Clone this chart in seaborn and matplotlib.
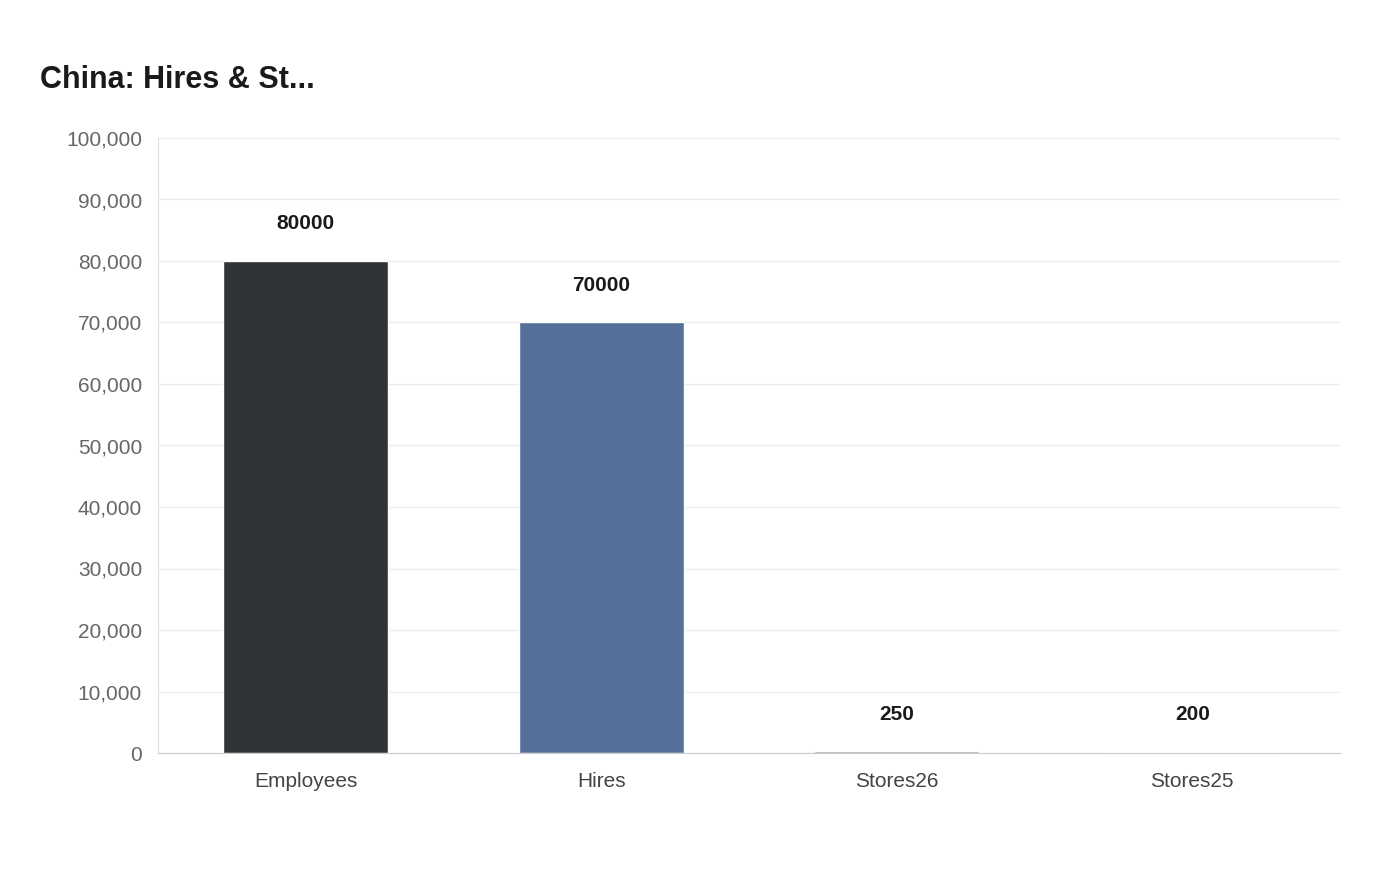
import matplotlib
matplotlib.use("Agg")
import matplotlib.pyplot as plt
import seaborn as sns
import pandas as pd
from matplotlib.ticker import FuncFormatter

categories = ["Employees", "Hires", "Stores26", "Stores25"]
values = [80000, 70000, 250, 200]
colors = ["#2e3538", "#4a6fa5", "#9a9a9a", "#d9d9d9"]

sns.set_style("white")
plt.rcParams["font.family"] = ["Liberation Sans", "DejaVu Sans"]

df = pd.DataFrame({"cat": categories, "val": values})
fig = plt.figure(figsize=(14, 8.8), dpi=100)
ax = fig.add_axes([158 / 1400, 1 - 753 / 880, (1340 - 158) / 1400, (753 - 138) / 880])
sns.barplot(data=df, x="cat", y="val", hue="cat", palette=colors, width=0.56,
            legend=False, ax=ax)

ax.set_ylim(0, 100000)
ax.set_yticks(range(0, 100001, 10000))
ax.yaxis.set_major_formatter(FuncFormatter(lambda v, p: f"{int(v):,}"))
ax.grid(axis="y", color="#ebebeb", linewidth=1)
ax.set_axisbelow(True)
for s in ["top", "right"]:
    ax.spines[s].set_visible(False)
ax.spines["left"].set_color("#dddddd")
ax.spines["bottom"].set_color("#cccccc")
ax.tick_params(axis="y", labelsize=15, labelcolor="#666666", length=8, color="#dddddd")
ax.tick_params(axis="x", labelsize=15, labelcolor="#444444", length=0, pad=14)
ax.set_xlabel("")
ax.set_ylabel("")

for i, v in enumerate(values):
    ax.annotate(str(v), (i, v), xytext=(0, 20), textcoords="offset points",
                ha="center", va="bottom", fontsize=15, fontweight="bold", color="#1a1a1a")

fig.text(40 / 1400, 1 - 80 / 880, "China: Hires & St...", fontsize=22, fontweight="bold",
         color="#1a1a1a", va="center")
fig.savefig("out.png", dpi=100)
